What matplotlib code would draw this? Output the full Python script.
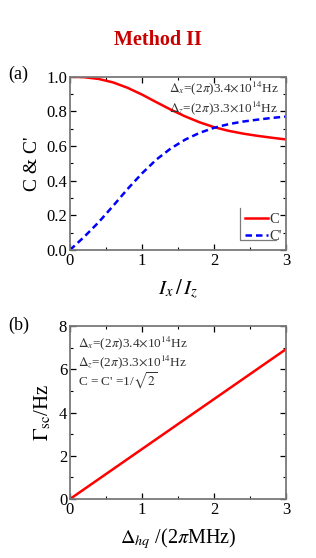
import numpy as np
import matplotlib
matplotlib.use('Agg')
import matplotlib.pyplot as plt
from matplotlib.ticker import MultipleLocator

plt.rcParams['font.family'] = ['Liberation Serif', 'DejaVu Serif']
plt.rcParams['mathtext.fontset'] = 'stix'

# panel (a): C and C' vs Ix/Iz
ratio = [0, 0.2, 0.4, 0.6, 0.8, 1.0, 1.2, 1.4, 1.6, 1.8, 2.0, 2.2, 2.4, 2.6, 2.8, 3.0]
C     = [1.0, 0.997, 0.987, 0.967, 0.936, 0.897, 0.853, 0.810, 0.771, 0.737, 0.709, 0.688, 0.672, 0.659, 0.648, 0.638]
Cp    = [0.0, 0.077, 0.161, 0.255, 0.352, 0.442, 0.522, 0.586, 0.637, 0.676, 0.705, 0.726, 0.741, 0.752, 0.762, 0.770]

# panel (b): Gamma_sc vs Delta_hq
dhq   = [0, 1, 2, 3]
gamma = [0, 2.31, 4.62, 6.93]

spine_col = '#7a7a7a'
txt_col = '#333333'

def style(ax):
  for s in ax.spines.values():
    s.set_color(spine_col); s.set_linewidth(1.3)
  ax.tick_params(which='both', direction='in', top=True, right=True, labelsize=12, colors='black')
  ax.tick_params(which='major', length=4, width=0.9)
  ax.tick_params(which='minor', length=2.5, width=0.8)
  ax.tick_params(axis='x', pad=2)
  ax.tick_params(axis='y', pad=2)

fig = plt.figure(figsize=(3.16, 5.58), dpi=100)
ax1 = fig.add_axes([0.2215, 0.552, 0.6835, 0.3105])
ax2 = fig.add_axes([0.2215, 0.1057, 0.6835, 0.31])

fig.text(0.5, 0.928, 'Method II', color='#c80000', fontsize=14.5, fontweight='bold', ha='center', va='center')

ax1.plot(ratio, C, color='#ff0000', lw=1.8, label='C')
ax1.plot(ratio, Cp, color='#0000ff', lw=1.8, ls=(0, (2.6, 1.6)), label="C'")
ax1.set_xlim(0, 3); ax1.set_ylim(0, 1)
ax1.xaxis.set_major_locator(MultipleLocator(1)); ax1.xaxis.set_minor_locator(MultipleLocator(0.5))
ax1.yaxis.set_major_locator(MultipleLocator(0.2)); ax1.yaxis.set_minor_locator(MultipleLocator(0.1))
ax1.yaxis.set_major_formatter(plt.FormatStrFormatter('%.1f'))
style(ax1)
ax1.set_ylabel("C & C'", fontsize=14, labelpad=4)
ax1.set_xlabel(r'$I_x\,/\,I_z$', fontsize=15, labelpad=6)
ax1.text(0.965, 0.935, r'$\Delta_x$=(2$\pi$)3.4$\times$10$^{14}$Hz', transform=ax1.transAxes,
         ha='right', va='center', fontsize=9.5, color=txt_col)
ax1.text(0.965, 0.82, r'$\Delta_z$=(2$\pi$)3.3$\times$10$^{14}$Hz', transform=ax1.transAxes,
         ha='right', va='center', fontsize=9.5, color=txt_col)
leg = ax1.legend(loc='lower left', bbox_to_anchor=(0.765, -0.02), frameon=False, fontsize=10.5,
                 handlelength=1.55, handletextpad=0.1, labelspacing=0.25, borderpad=0.2)
for t in leg.get_texts():
  t.set_color(txt_col)
ax1.plot([0.787, 0.787, 0.954], [0.243, 0.058, 0.058], transform=ax1.transAxes, color=spine_col, lw=0.9, clip_on=False)
fig.text(0.025, 0.867, '(a)', fontsize=13, va='center')

ax2.plot(dhq, gamma, color='#ff0000', lw=1.8)
ax2.set_xlim(0, 3); ax2.set_ylim(0, 8)
ax2.xaxis.set_major_locator(MultipleLocator(1)); ax2.xaxis.set_minor_locator(MultipleLocator(0.5))
ax2.yaxis.set_major_locator(MultipleLocator(2)); ax2.yaxis.set_minor_locator(MultipleLocator(1))
style(ax2)
ax2.set_ylabel(r'$\Gamma_{\rm sc}$/Hz', fontsize=15, labelpad=4)
ax2.set_xlabel(r'$\Delta_{hq}$ /(2$\pi$MHz)', fontsize=14.5, labelpad=6)
ax2.text(0.035, 0.9, r'$\Delta_x$=(2$\pi$)3.4$\times$10$^{14}$Hz', transform=ax2.transAxes,
         ha='left', va='center', fontsize=9.5, color=txt_col)
ax2.text(0.035, 0.79, r'$\Delta_z$=(2$\pi$)3.3$\times$10$^{14}$Hz', transform=ax2.transAxes,
         ha='left', va='center', fontsize=9.5, color=txt_col)
ax2.text(0.035, 0.685, r"C = C' =1/$\sqrt{2}$", transform=ax2.transAxes,
         ha='left', va='center', fontsize=9.5, color=txt_col)
fig.text(0.025, 0.417, '(b)', fontsize=13, va='center')

fig.savefig('out.png', dpi=100)
